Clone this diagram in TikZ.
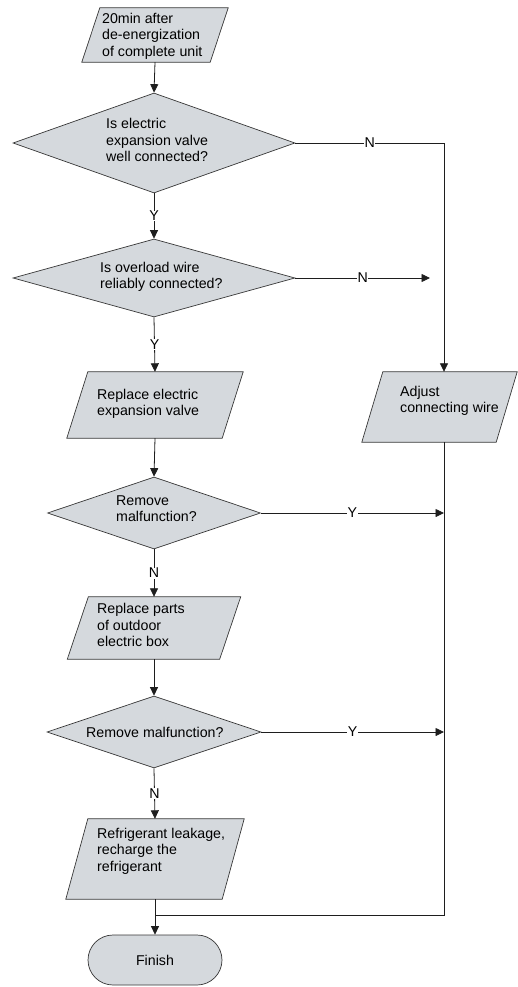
\documentclass[tikz,border=0pt]{standalone}
\usepackage{fontspec}
\setmainfont{Liberation Sans}
\usetikzlibrary{shapes.geometric,shapes.misc,arrows.meta,backgrounds}
\definecolor{boxgray}{RGB}{213,217,221}
\definecolor{edgegray}{RGB}{55,55,55}
\definecolor{linegray}{RGB}{30,30,30}
\newcommand\drawpara[2]{%
  \begin{scope}[on background layer]
    \filldraw[shapefill] ([xshift=#2]#1.north west) -- ([xshift=#2]#1.north east)
      -- ([xshift=-#2]#1.south east) -- ([xshift=-#2]#1.south west) -- cycle;
  \end{scope}}
\begin{document}
\begin{tikzpicture}[x=1pt,y=-1pt,
  shapefill/.style={fill=boxgray, draw=edgegray, line width=0.7pt},
  pbox/.style={rectangle, draw=none, inner sep=0pt},
  dia/.style={diamond, shapefill, inner sep=0pt},
  term/.style={rounded rectangle, shapefill, inner sep=0pt, minimum width=134pt, minimum height=50pt, font=\fontsize{14.2}{16.5}\selectfont},
  txt/.style={font=\fontsize{14.2}{16.5}\selectfont, align=left, inner sep=0pt, anchor=west},
  conn/.style={draw=linegray, line width=0.8pt},
  arr/.style={conn, -{Triangle[length=8.5pt,width=8pt]}},
  lbl/.style={fill=white, inner sep=0.6pt, font=\fontsize{14.2}{16.5}\selectfont}]
\useasboundingbox (0,0) rectangle (518,987);

% right column
\coordinate (rc) at (444,0);

% box 1
\node[pbox, minimum width=128pt, minimum height=54pt] (b1) at (155,35) {};
\drawpara{b1}{9pt}
\node[txt] (t1) at (102,36) {20min after\\de-energization\\of complete unit};

% diamond 1
\node[dia, minimum width=282pt, minimum height=100pt] (d1) at (154,143) {};
\node[txt] (t2) at (106,140) {Is electric\\expansion valve\\well connected?};

% diamond 2
\node[dia, minimum width=282pt, minimum height=78pt] (d2) at (154,278) {};
\node[txt] (t3) at (100,277) {Is overload wire\\reliably connected?};
\coordinate (d2end) at (430,278);

% box 3
\node[pbox, minimum width=155pt, minimum height=66pt] (b3) at (155,405) {};
\drawpara{b3}{10.5pt}
\node[txt] (t4) at (97,404) {Replace electric\\expansion valve};

% adjust box
\node[pbox, minimum width=134pt, minimum height=70pt] (adj) at (439.5,407) {};
\drawpara{adj}{10.5pt}
\node[txt] (t5) at (400,401) {Adjust\\connecting wire};

% diamond 3
\node[dia, minimum width=213pt, minimum height=72pt] (d3) at (154,513) {};
\node[txt] (t6) at (116,508.5) {Remove\\malfunction?};

% box 4
\node[pbox, minimum width=152pt, minimum height=62pt] (b4) at (154,628) {};
\drawpara{b4}{10.5pt}
\node[txt] (t7) at (97,625) {Replace parts\\of outdoor\\electric box};

% diamond 4
\node[dia, minimum width=214pt, minimum height=72pt] (d4) at (154,732) {};
\node[txt] (t8) at (86,732) {Remove malfunction?};

% box 5
\node[pbox, minimum width=156pt, minimum height=80pt] (b5) at (155,859) {};
\drawpara{b5}{11pt}
\node[txt] (t9) at (97,851) {Refrigerant leakage,\\recharge the\\refrigerant};

% finish
\node[term] (fin) at (155,960) {Finish};
\coordinate (join) at (155,915);

% connectors
\draw[arr] (b1.south) -- (d1.north);
\draw[arr] (d1.south) -- node[lbl]{Y} (d2.north);
\draw[arr] (d2.south) -- node[lbl]{Y} (b3.north);
\draw[arr] (b3.south) -- (d3.north);
\draw[arr] (d3.south) -- node[lbl]{N} (b4.north);
\draw[arr] (b4.south) -- (d4.north);
\draw[arr] (d4.south) -- node[lbl]{N} (b5.north);
\draw[arr] (b5.south) -- (fin.north);

\draw[arr] (d1.east) -- node[lbl]{N} (d1.east -| rc) -- (adj.north -| rc);
\draw[arr] (d2.east) -- node[lbl]{N} (d2end);
\draw[arr] (d3.east) -- node[lbl]{Y} (d3.east -| rc);
\draw[arr] (d4.east) -- node[lbl]{Y} (d4.east -| rc);
\draw[conn] (adj.south -| rc) |- (join);
\end{tikzpicture}
\end{document}
